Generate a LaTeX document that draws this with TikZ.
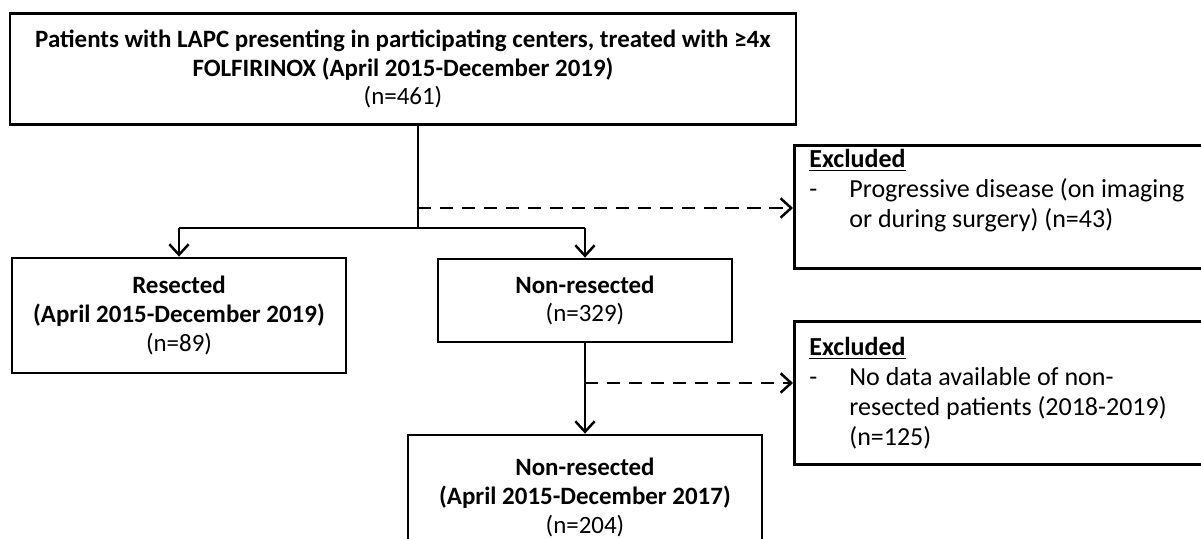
\documentclass[tikz,border=0pt]{standalone}
\usepackage{fontspec}
\setmainfont{Carlito}
\usetikzlibrary{arrows.meta,positioning,calc}

\begin{document}
\begin{tikzpicture}[x=0.02cm, y=-0.02cm, >={Straight Barb[length=6pt,width=11pt,line width=1.4pt]},
  font=\fontsize{14.2}{16.4}\selectfont,
  box/.style={draw, line width=1.6pt, inner sep=0pt, align=center},
  exbox/.style={box, anchor=north west, minimum width=8.44cm,
    font=\fontsize{14.8}{17}\selectfont},
  flow/.style={line width=1.4pt},
  skip/.style={line width=1.4pt, dash pattern=on 7.5pt off 5pt}]
  %% page frame (1201 x 538 px)
  \useasboundingbox (0,0) rectangle (1201,538);

  %% ── Main boxes ─────────────────────────────────────────────
  \node[box, minimum width=15.72cm, minimum height=2.22cm] (cohort) at (403,69)
    {\textbf{Patients with LAPC presenting in participating centers, treated with ≥4x}\\
     \textbf{FOLFIRINOX (April 2015-December 2019)}\\
     (n=461)};
  \node[box, minimum width=6.68cm, minimum height=2.3cm] (resected) at (179,315.5)
    {\textbf{Resected}\\ \textbf{(April 2015-December 2019)}\\ (n=89)};
  \node[box, minimum width=5.88cm, minimum height=1.66cm] (nonres) at (585,300.5)
    {\textbf{Non-resected}\\ (n=329)};
  \node[box, minimum width=7.08cm, minimum height=2.5cm] (final) at (585,497.5)
    {\textbf{Non-resected}\\ \textbf{(April 2015-December 2017)}\\ (n=204)};

  %% ── Exclusion boxes (run off the right edge) ───────────────
  \node[exbox, minimum height=2.46cm] (excl1) at (793,144)
    {\parbox[c][2.3cm][t]{8.44cm}{%
     \hspace*{0.3cm}\underline{\textbf{Excluded}}\\
     \hspace*{0.3cm}\makebox[0.8cm][l]{-}Progressive disease (on imaging\\
     \hspace*{1.1cm}or during surgery) (n=43)}};
  \node[exbox, minimum height=2.86cm] (excl2) at (793,320)
    {\parbox[c][2.86cm][c]{8.44cm}{%
     \hspace*{0.3cm}\underline{\textbf{Excluded}}\\
     \hspace*{0.3cm}\makebox[0.8cm][l]{-}No data available of non-\\
     \hspace*{1.1cm}resected patients (2018-2019)\\
     \hspace*{1.1cm}(n=125)}};

  %% ── Connectors ─────────────────────────────────────────────
  \coordinate (split) at (418,228);
  \coordinate (drop1) at (418,208);
  \coordinate (drop2) at (585,383);
  \draw[flow] (cohort.south -| split) -- (split);
  \draw[flow] (resected.north |- split) -- (nonres.north |- split);
  \draw[flow,->] (resected.north |- split) -- (resected.north);
  \draw[flow,->] (nonres.north |- split) -- (nonres.north);
  \draw[skip,->] (drop1) -- (drop1 -| excl1.west);
  \draw[flow,->] (nonres.south) -- (final.north);
  \draw[skip,->] (drop2) -- (drop2 -| excl2.west);
\end{tikzpicture}
\end{document}
